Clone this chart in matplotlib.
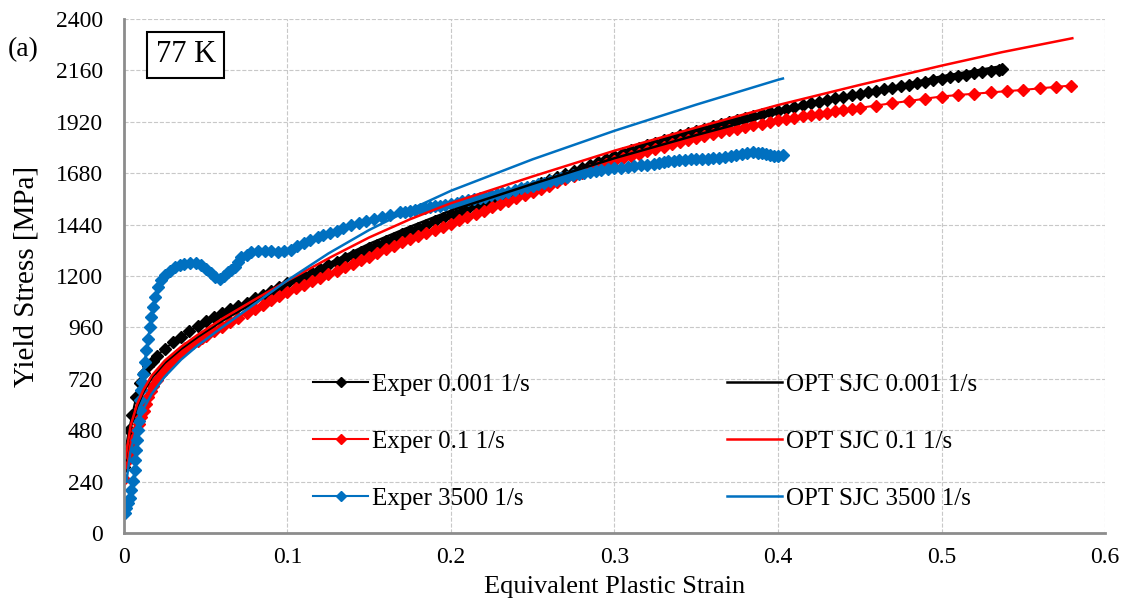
import matplotlib
matplotlib.use("Agg")
import matplotlib.pyplot as plt

plt.rcParams['font.family'] = ['Liberation Serif', 'DejaVu Serif']

# experimental data, 0.001 1/s
exp_001_strain = [0, 0.001, 0.003, 0.005, 0.0075, 0.01, 0.0125, 0.015, 0.0175, 0.02,
                  0.025, 0.03, 0.035, 0.04, 0.045, 0.05, 0.055, 0.06, 0.065, 0.07,
                  0.075, 0.08, 0.085, 0.09, 0.095, 0.1, 0.105, 0.11, 0.115, 0.12,
                  0.125, 0.13, 0.135, 0.14, 0.145, 0.15, 0.155, 0.16, 0.165, 0.17,
                  0.175, 0.18, 0.185, 0.19, 0.195, 0.2, 0.205, 0.21, 0.215, 0.22,
                  0.225, 0.23, 0.235, 0.24, 0.245, 0.25, 0.255, 0.26, 0.265, 0.27,
                  0.275, 0.28, 0.285, 0.29, 0.295, 0.3, 0.305, 0.31, 0.315, 0.32,
                  0.325, 0.33, 0.335, 0.34, 0.345, 0.35, 0.355, 0.36, 0.365, 0.37,
                  0.375, 0.38, 0.385, 0.39, 0.395, 0.4, 0.405, 0.41, 0.415, 0.42,
                  0.425, 0.43, 0.435, 0.44, 0.445, 0.45, 0.455, 0.46, 0.465, 0.47,
                  0.475, 0.48, 0.485, 0.49, 0.495, 0.5, 0.505, 0.51, 0.515, 0.52,
                  0.525, 0.53, 0.535, 0.537]
exp_001_stress = [308, 390, 480, 550, 635, 700, 745, 778, 805, 828,
                  860, 890, 916, 942, 965, 988, 1008, 1027, 1044, 1060,
                  1076, 1095, 1112, 1130, 1148, 1165, 1182, 1199, 1215, 1232,
                  1249, 1265, 1282, 1298, 1314, 1330, 1346, 1362, 1378, 1394,
                  1410, 1425, 1440, 1455, 1470, 1485, 1499, 1512, 1526, 1539,
                  1552, 1566, 1579, 1592, 1606, 1620, 1634, 1648, 1662, 1676,
                  1690, 1704, 1718, 1732, 1746, 1760, 1773, 1786, 1798, 1810,
                  1822, 1834, 1845, 1856, 1867, 1878, 1888, 1898, 1908, 1918,
                  1928, 1938, 1947, 1956, 1964, 1972, 1981, 1990, 1998, 2006,
                  2014, 2022, 2030, 2038, 2045, 2052, 2059, 2066, 2073, 2080,
                  2087, 2094, 2101, 2108, 2115, 2121, 2128, 2134, 2140, 2146,
                  2152, 2158, 2164, 2167]

# experimental data, 0.1 1/s
exp_01_strain = [0, 0.0015, 0.003, 0.0045, 0.006, 0.0075, 0.009, 0.0105, 0.012, 0.0135,
                 0.015, 0.0165, 0.018, 0.02, 0.0225, 0.025, 0.0275, 0.03, 0.0325, 0.035,
                 0.0375, 0.04, 0.0425, 0.045, 0.0475, 0.05, 0.055, 0.06, 0.065, 0.07,
                 0.075, 0.08, 0.085, 0.09, 0.095, 0.1, 0.105, 0.11, 0.115, 0.12,
                 0.125, 0.13, 0.135, 0.14, 0.145, 0.15, 0.155, 0.16, 0.165, 0.17,
                 0.175, 0.18, 0.185, 0.19, 0.195, 0.2, 0.205, 0.21, 0.215, 0.22,
                 0.225, 0.23, 0.235, 0.24, 0.245, 0.25, 0.255, 0.26, 0.265, 0.27,
                 0.275, 0.28, 0.285, 0.29, 0.295, 0.3, 0.305, 0.31, 0.315, 0.32,
                 0.325, 0.33, 0.335, 0.34, 0.345, 0.35, 0.355, 0.36, 0.365, 0.37,
                 0.375, 0.38, 0.385, 0.39, 0.395, 0.4, 0.405, 0.41, 0.415, 0.42,
                 0.425, 0.43, 0.435, 0.44, 0.445, 0.45, 0.46, 0.47, 0.48, 0.49,
                 0.5, 0.51, 0.52, 0.53, 0.54, 0.55, 0.56, 0.57, 0.579]
exp_01_stress = [254, 330, 370, 405, 445, 479, 510, 540, 572, 602,
                 634, 663, 688, 715, 742, 768, 792, 814, 830, 847,
                 862, 874, 886, 898, 910, 922, 942, 962, 985, 1006,
                 1026, 1046, 1066, 1086, 1106, 1125, 1142, 1159, 1175, 1191,
                 1207, 1223, 1240, 1257, 1274, 1291, 1308, 1325, 1342, 1358,
                 1373, 1388, 1403, 1417, 1431, 1445, 1460, 1475, 1490, 1505,
                 1520, 1534, 1548, 1562, 1577, 1592, 1607, 1622, 1637, 1652,
                 1667, 1682, 1697, 1711, 1725, 1739, 1750, 1760, 1771, 1782,
                 1793, 1804, 1815, 1825, 1835, 1845, 1854, 1863, 1872, 1880,
                 1888, 1896, 1904, 1911, 1919, 1926, 1933, 1939, 1945, 1951,
                 1957, 1963, 1969, 1974, 1980, 1985, 1996, 2007, 2017, 2028,
                 2038, 2045, 2051, 2057, 2063, 2069, 2076, 2083, 2089]

# experimental data, 3500 1/s
exp_3500_strain = [0.0005, 0.0015, 0.0025, 0.0035, 0.0045, 0.0055, 0.0065, 0.007, 0.0075, 0.008,
                   0.0086, 0.009, 0.0096, 0.01, 0.0106, 0.0111, 0.0116, 0.0126, 0.0136, 0.0147,
                   0.0157, 0.0167, 0.0177, 0.019, 0.0208, 0.0228, 0.0249, 0.028, 0.031, 0.034,
                   0.037, 0.0405, 0.0442, 0.047, 0.0503, 0.053, 0.0555, 0.0585, 0.061, 0.0636,
                   0.0657, 0.0677, 0.0697, 0.0717, 0.075, 0.0779, 0.082, 0.086, 0.09, 0.094,
                   0.098, 0.102, 0.106, 0.11, 0.114, 0.1185, 0.122, 0.126, 0.13, 0.134,
                   0.139, 0.1436, 0.148, 0.153, 0.158, 0.163, 0.1688, 0.172, 0.175, 0.178,
                   0.181, 0.184, 0.187, 0.19, 0.193, 0.1965, 0.2, 0.2035, 0.207, 0.2105,
                   0.214, 0.2175, 0.221, 0.2245, 0.228, 0.2315, 0.235, 0.239, 0.2428, 0.2465,
                   0.25, 0.2535, 0.257, 0.2605, 0.264, 0.2675, 0.271, 0.2745, 0.278, 0.2815,
                   0.285, 0.2885, 0.292, 0.296, 0.3, 0.304, 0.308, 0.312, 0.3162, 0.32,
                   0.324, 0.327, 0.33, 0.333, 0.3364, 0.3397, 0.343, 0.3465, 0.35, 0.3535,
                   0.357, 0.3605, 0.364, 0.3675, 0.371, 0.3745, 0.378, 0.3813, 0.3847, 0.3875,
                   0.39, 0.3925, 0.395, 0.3975, 0.4, 0.403]
exp_3500_stress = [95, 115, 140, 165, 200, 245, 295, 340, 386, 432,
                   479, 525, 573, 620, 666, 705, 744, 800, 853, 908,
                   961, 1010, 1055, 1100, 1148, 1180, 1203, 1225, 1241, 1250,
                   1257, 1262, 1260, 1250, 1234, 1212, 1195, 1187, 1200, 1218,
                   1230, 1241, 1265, 1288, 1300, 1311, 1316, 1319, 1316, 1313,
                   1318, 1322, 1338, 1354, 1368, 1382, 1392, 1400, 1412, 1424,
                   1436, 1447, 1456, 1466, 1477, 1487, 1498, 1500, 1505, 1510,
                   1514, 1518, 1522, 1526, 1529, 1532, 1537, 1543, 1548, 1554,
                   1560, 1566, 1571, 1576, 1582, 1586, 1592, 1601, 1610, 1616,
                   1622, 1629, 1636, 1643, 1650, 1657, 1664, 1671, 1677, 1682,
                   1686, 1690, 1694, 1698, 1702, 1706, 1710, 1713, 1716, 1720,
                   1725, 1729, 1732, 1736, 1739, 1741, 1742, 1744, 1745, 1746,
                   1747, 1749, 1752, 1755, 1758, 1763, 1768, 1773, 1778, 1775,
                   1772, 1768, 1765, 1762, 1760, 1763]

# optimised SJC model curves
opt_strain = [0.001, 0.004, 0.008, 0.012, 0.017, 0.025, 0.035, 0.045, 0.06, 0.08,
              0.1, 0.127, 0.15, 0.175, 0.2, 0.25, 0.3, 0.35, 0.4, 0.45,
              0.5, 0.537, 0.58]
opt_001_stress = [340, 490, 590, 660, 725, 795, 860, 915, 990, 1078,
                  1160, 1265, 1350, 1430, 1505, 1630, 1750, 1858, 1960, 2050,
                  2132, 2180]
opt_01_stress = [350, 500, 600, 670, 735, 805, 870, 925, 1000, 1090,
                 1178, 1290, 1380, 1465, 1540, 1665, 1785, 1893, 1998, 2092,
                 2182, 2245, 2310]
opt_3500_strain = [0.0015, 0.004, 0.008, 0.012, 0.017, 0.025, 0.035, 0.045, 0.06, 0.08,
                   0.1, 0.125, 0.15, 0.175, 0.2, 0.25, 0.3, 0.35, 0.4, 0.403]
opt_3500_stress = [240, 380, 500, 580, 650, 730, 810, 875, 960, 1070,
                   1180, 1305, 1415, 1510, 1598, 1745, 1878, 2000, 2116, 2122]

x_ticks = [0, 0.1, 0.2, 0.3, 0.4, 0.5, 0.6]
x_tick_labels = ['0', '0.1', '0.2', '0.3', '0.4', '0.5', '0.6']
y_ticks = [0, 240, 480, 720, 960, 1200, 1440, 1680, 1920, 2160, 2400]

BLACK = '#000000'
RED = '#ff0000'
BLUE = '#0070c0'

fig = plt.figure(figsize=(11.3, 6.1), dpi=100)
ax = fig.add_axes([0.1097, 0.1262, 0.8682, 0.8427])

ax.plot(exp_001_strain, exp_001_stress, color=BLACK, lw=1.5, marker='D', ms=6.5,
        label='Exper 0.001 1/s')
ax.plot(exp_01_strain, exp_01_stress, color=RED, lw=1.5, marker='D', ms=6.5,
        label='Exper 0.1 1/s')
ax.plot(exp_3500_strain, exp_3500_stress, color=BLUE, lw=1.5, marker='D', ms=6,
        label='Exper 3500 1/s')
ax.plot(opt_strain[:len(opt_001_stress)], opt_001_stress, color=BLACK, lw=1.8,
        label='OPT SJC 0.001 1/s')
ax.plot(opt_strain, opt_01_stress, color=RED, lw=1.8, label='OPT SJC 0.1 1/s')
ax.plot(opt_3500_strain, opt_3500_stress, color=BLUE, lw=1.8, label='OPT SJC 3500 1/s')

ax.set_xlim(0, 0.6)
ax.set_ylim(0, 2400)
ax.set_xticks(x_ticks)
ax.set_xticklabels(x_tick_labels)
ax.set_yticks(y_ticks)
ax.tick_params(length=0, labelsize=17)
ax.tick_params(axis='y', pad=15)
ax.tick_params(axis='x', pad=10)
ax.grid(True, color='#c8c8c8', ls='--', lw=0.8)
ax.set_axisbelow(True)
for side in ('top', 'right'):
    ax.spines[side].set_visible(False)
for side in ('left', 'bottom'):
    ax.spines[side].set_color('#8c8c8c')
    ax.spines[side].set_linewidth(2)

ax.set_xlabel('Equivalent Plastic Strain', fontsize=19, labelpad=6)
ax.set_ylabel('Yield Stress [MPa]', fontsize=21, labelpad=12)

ax.legend(loc='upper left', bbox_to_anchor=(0.193, 0.311), ncol=2, frameon=False,
          fontsize=18, handlelength=2.2, handletextpad=0.15, columnspacing=7.9,
          labelspacing=1.38, borderpad=0, borderaxespad=0, markerscale=0.8)

ax.text(0.063, 0.93, '77 K', transform=ax.transAxes, fontsize=22, ha='center', va='center',
        bbox=dict(boxstyle='square,pad=0.27', fc='white', ec='black', lw=1.5))
fig.text(0.007, 0.918, '(a)', fontsize=20, ha='left', va='center')

fig.savefig('out.png', dpi=100)
